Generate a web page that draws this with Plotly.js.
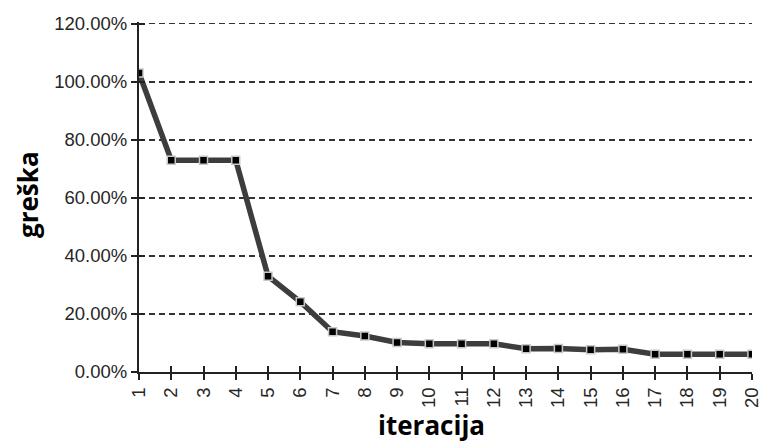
<!DOCTYPE html>
<html>
<head>
<meta charset="utf-8">
<script src="https://cdn.plot.ly/plotly-3.0.1.min.js"></script>
<style>html,body{margin:0;padding:0;background:#fff;}#chart{width:759px;height:442px;}</style>
</head>
<body>
<div id="chart"></div>
<script>
var iterations = [1,2,3,4,5,6,7,8,9,10,11,12,13,14,15,16,17,18,19,20];
var errorValues = [1.03,0.73,0.73,0.73,0.33,0.242,0.139,0.124,0.102,0.097,0.097,0.097,0.080,0.081,0.077,0.078,0.061,0.061,0.061,0.061];
var yTickVals = [0,0.2,0.4,0.6,0.8,1.0,1.2];
var yTickText = ['0.00%','20.00%','40.00%','60.00%','80.00%','100.00%','120.00%'];
var xTitle = 'iteracija';
var yTitle = 'greška';

var trace = {
  x: iterations, y: errorValues, type: 'scatter', mode: 'lines+markers',
  line: {color: '#3d3d3d', width: 5.5},
  marker: {symbol: 'square', size: 8, color: '#000', line: {color: '#c8c8c8', width: 1.5}},
  hoverinfo: 'skip', showlegend: false
};
var helper = {x: [1], y: [0], xaxis: 'x2', yaxis: 'y2', type: 'scatter', mode: 'markers',
  marker: {opacity: 0}, hoverinfo: 'skip', showlegend: false};

var tickFont = {family: 'Liberation Sans, Arial, sans-serif', size: 18.5, color: '#262626'};
var titleFont = {family: 'Open Sans, sans-serif', size: 26, color: '#000'};
var xRange = [1, 20.002];
var yRange = [0, 1.206];
var layout = {
  width: 759, height: 442,
  margin: {l: 139, r: 7, t: 22, b: 70},
  paper_bgcolor: '#fff', plot_bgcolor: '#fff',
  xaxis: {
    range: xRange, tickvals: iterations, ticktext: iterations.map(String),
    tickangle: -90, ticks: 'outside', ticklen: 6, tickwidth: 2, tickcolor: '#222',
    showline: true, linecolor: '#222', linewidth: 2, showgrid: false, zeroline: false,
    tickfont: tickFont, ticklabeloverflow: 'allow'
  },
  xaxis2: {
    overlaying: 'x', range: xRange, tickvals: iterations, anchor: 'y', side: 'bottom',
    ticks: 'inside', ticklen: 6, tickwidth: 2, tickcolor: '#222',
    showticklabels: false, showgrid: false, zeroline: false, showline: false
  },
  yaxis: {
    range: yRange, tickvals: yTickVals, ticktext: yTickText,
    ticks: 'outside', ticklen: 6, tickwidth: 2, tickcolor: '#222',
    showline: true, linecolor: '#222', linewidth: 2,
    showgrid: true, gridcolor: '#333', gridwidth: 1.5, griddash: '6px,4px',
    zeroline: false, tickfont: tickFont
  },
  yaxis2: {
    overlaying: 'y', range: yRange, tickvals: yTickVals, anchor: 'x', side: 'left',
    ticks: 'inside', ticklen: 6, tickwidth: 2, tickcolor: '#222',
    showticklabels: false, showgrid: false, zeroline: false, showline: false
  },
  annotations: [
    {text: '<b>' + xTitle + '</b>', xref: 'paper', yref: 'paper', x: (431 - 139) / 613, y: -0.152,
     xanchor: 'center', yanchor: 'middle', showarrow: false, font: titleFont},
    {text: '<b>' + yTitle + '</b>', xref: 'paper', yref: 'paper', x: (28 - 139) / 613, y: (372 - 195) / 350,
     xanchor: 'center', yanchor: 'middle', textangle: -90, showarrow: false, font: titleFont}
  ]
};
Plotly.newPlot('chart', [trace, helper], layout, {staticPlot: true});
</script>
</body>
</html>
